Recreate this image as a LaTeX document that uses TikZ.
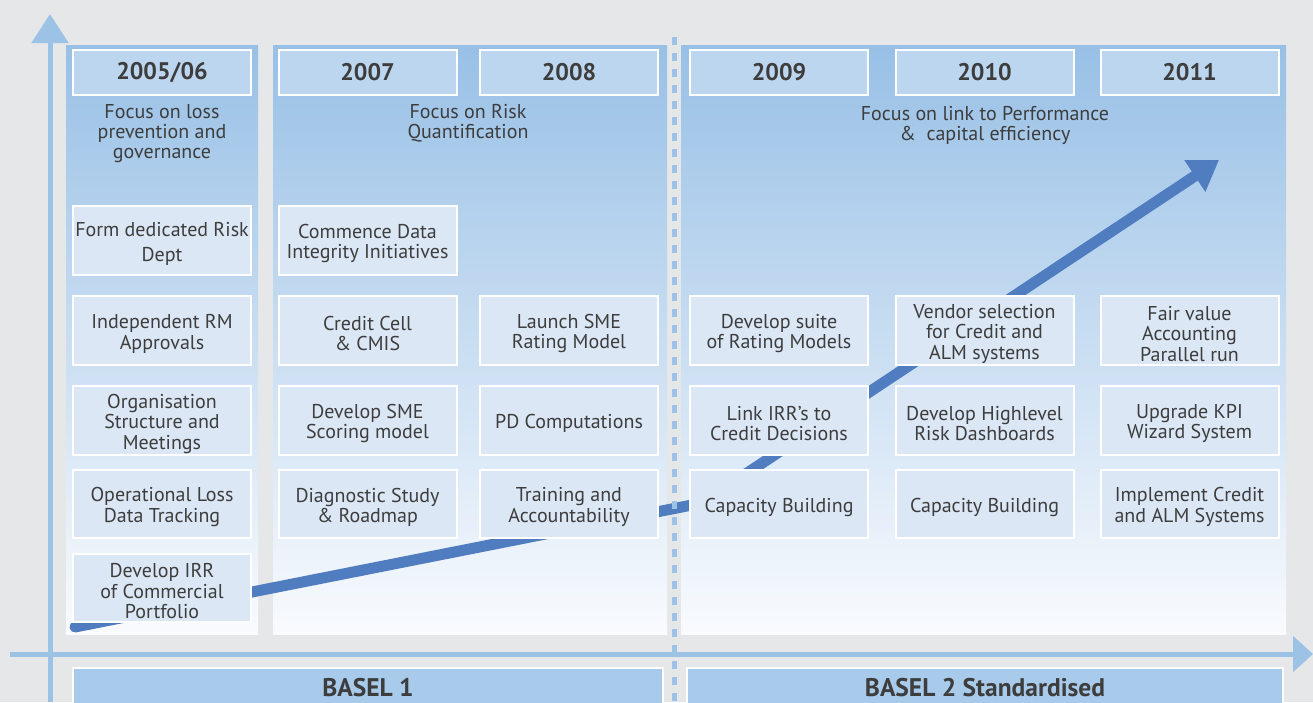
\documentclass[tikz,border=0pt]{standalone}
\usepackage{fontspec}
\setmainfont{PT Sans}
\usetikzlibrary{arrows.meta}
\definecolor{bg}{HTML}{E6E7E9}
\definecolor{axisblue}{HTML}{9CC2E5}
\definecolor{paneltop}{HTML}{98C0E6}
\definecolor{panelbot}{HTML}{F9FBFE}
\definecolor{boxfill}{HTML}{DBE7F5}
\definecolor{hdrfill}{HTML}{BDD6EF}
\definecolor{baselfill}{HTML}{A8CAEB}
\definecolor{arrowblue}{HTML}{4F7DC0}
\definecolor{txt}{HTML}{3D3D3D}
\newcommand{\myhtstrut}{\rule{0pt}{20.5pt}}
\tikzset{
  itembox/.style={draw=white, line width=2pt, fill=boxfill, minimum width=178pt,
    minimum height=69pt, inner sep=0pt, align=center, text=txt,
    font=\fontsize{20pt}{20.5pt}\selectfont},
  hdrbox/.style={draw=white, line width=2pt, fill=hdrfill, minimum width=178pt,
    minimum height=45pt, inner sep=0pt, text=txt,
    font=\fontsize{24pt}{26pt}\selectfont\bfseries},
  baselbox/.style={draw=white, line width=2pt, fill=baselfill,
    minimum height=40pt, inner sep=0pt, text=txt,
    font=\fontsize{25.5pt}{28pt}\selectfont\bfseries},
  focustext/.style={align=center, text=txt, inner sep=0pt,
    font=\fontsize{20pt}{20pt}\selectfont},
  axisline/.style={draw=axisblue, line width=5pt},
  dashline/.style={draw=axisblue, line width=5pt, dash pattern=on 8pt off 8pt},
  bigarrow/.style={draw=arrowblue, line width=11pt, line cap=round,
    -{Triangle[length=29pt,width=36pt]}}
}
\begin{document}
\begin{tikzpicture}[x=1pt,y=-1pt]
\useasboundingbox (0,0) rectangle (1313,702);
\fill[bg] (0,0) rectangle (1313,702);
% panels
\shade[top color=paneltop, bottom color=panelbot] (66,45) rectangle (258,634);
\shade[top color=paneltop, bottom color=panelbot] (273,45) rectangle (667,634);
\shade[top color=paneltop, bottom color=panelbot] (681,45) rectangle (1286,634);
% axes
\coordinate (vbot) at (50,702);
\coordinate (vtop) at (50,14);
\coordinate (hleft) at (10,654);
\coordinate (hright) at (1313,654);
\draw[axisline, -{Triangle[length=29pt,width=36pt]}] (vbot) -- (vtop);
\draw[axisline, -{Triangle[length=20pt,width=35pt]}] (hleft) -- (hright);
% big arrow
\coordinate (as) at (75,627);
\coordinate (ab) at (702,503);
\coordinate (at) at (1219,160);
\draw[bigarrow] (as) -- (ab) -- (at);
% dashed separator
\coordinate (dtop) at (674,37);
\coordinate (dbot) at (674,702);
\draw[dashline] (dtop) -- (dbot);
% headers
\node[hdrbox] (h1) at (162,72.5) {2005/06};
\node[hdrbox] (h2) at (367.5,72.5) {2007};
\node[hdrbox] (h3) at (569,72.5) {2008};
\node[hdrbox] (h4) at (779,72.5) {2009};
\node[hdrbox] (h5) at (984.5,72.5) {2010};
\node[hdrbox] (h6) at (1189.5,72.5) {2011};
% focus texts
\node[focustext] (f1) at (162,134) {Focus on loss\\prevention and\\governance};
\node[focustext] (f2) at (468,123) {Focus on Risk\\Quantification};
\node[focustext] (f3) at (985,125) {Focus on link to Performance\\\&~ capital efficiency};
% column 1
\node[itembox, font=\fontsize{20pt}{25pt}\selectfont] (a1) at (162,240.5) {\myhtstrut Form dedicated Risk\\Dept};
\node[itembox] (b1) at (162,330.5) {\myhtstrut Independent RM\\Approvals};
\node[itembox] (c1) at (162,420.5) {\myhtstrut Organisation\\Structure and\\Meetings};
\node[itembox, minimum height=68pt] (d1) at (162,504) {\myhtstrut Operational Loss\\Data Tracking};
\node[itembox, minimum height=68pt] (e1) at (162,588) {\myhtstrut Develop IRR\\of Commercial\\Portfolio};
% column 2
\node[itembox] (a2) at (367.5,240.5) {\myhtstrut Commence Data\\Integrity Initiatives};
\node[itembox] (b2) at (367.5,330.5) {\myhtstrut Credit Cell\\\& CMIS};
\node[itembox] (c2) at (367.5,420.5) {\myhtstrut Develop SME\\Scoring model};
\node[itembox, minimum height=68pt] (d2) at (367.5,504) {\myhtstrut Diagnostic Study\\\& Roadmap};
% column 3
\node[itembox] (b3) at (569,330.5) {\myhtstrut Launch SME\\Rating Model};
\node[itembox] (c3) at (569,420.5) {\myhtstrut PD Computations};
\node[itembox, minimum height=68pt] (d3) at (569,504) {\myhtstrut Training and\\Accountability};
% column 4
\node[itembox] (b4) at (779,330.5) {\myhtstrut Develop suite\\of Rating Models};
\node[itembox] (c4) at (779,420.5) {\myhtstrut Link IRR’s to\\Credit Decisions};
\node[itembox, minimum height=68pt] (d4) at (779,504) {\myhtstrut Capacity Building};
% column 5
\node[itembox] (b5) at (984.5,330.5) {\myhtstrut Vendor selection\\for Credit and\\ALM systems};
\node[itembox] (c5) at (984.5,420.5) {\myhtstrut Develop Highlevel\\Risk Dashboards};
\node[itembox, minimum height=68pt] (d5) at (984.5,504) {\myhtstrut Capacity Building};
% column 6
\node[itembox] (b6) at (1189.5,330.5) {\myhtstrut Fair value\\Accounting\\Parallel run};
\node[itembox] (c6) at (1189.5,420.5) {\myhtstrut Upgrade KPI\\Wizard System};
\node[itembox, minimum height=68pt] (d6) at (1189.5,504) {\myhtstrut Implement Credit\\and ALM Systems};
% basel boxes
\node[baselbox, minimum width=590pt] (basel1) at (368,688) {BASEL 1};
\node[baselbox, minimum width=596pt] (basel2) at (985,688) {BASEL 2 Standardised};
\end{tikzpicture}
\end{document}
